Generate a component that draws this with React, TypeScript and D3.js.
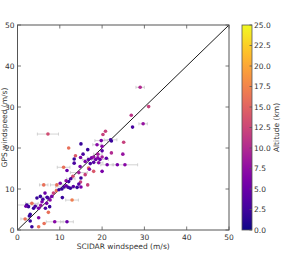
import React from "react";
import * as d3 from "d3";

const scidar = [7.2,20.2,20.8,29.0,26.9,27.2,29.7,31.0,15.0,19.8,22.0,22.2,25.1,12.1,16.6,18.8,20.0,20.0,22.2,13.7,13.4,13.4,14.9,16.0,16.8,17.5,18.0,18.5,19.0,19.5,20.0,18.0,19.2,17.2,21.2,24.9,25.4,23.6,20.0,18.0,16.8,10.9,11.7,13.1,12.6,12.1,15.0,14.9,14.5,15.0,16.6,14.1,10.1,9.3,6.2,11.0,11.5,12.0,9.2,9.8,10.5,12.5,13.2,10.6,12.9,8.1,4.6,5.4,5.8,3.4,2.2,2.6,3.8,5.0,6.6,7.6,7.7,6.9,7.3,3.0,2.8,5.0,1.8,3.0,6.3,8.8,11.7,3.4,5.0,6.0,7.0,2.0,4.2,5.5,6.5,7.2,8.5,11.5,14.5,14.8,16.0,17.0,19.0,21.0,15.5];
const gps = [23.4,23.3,24.1,34.8,28.0,25.1,25.9,30.1,21.0,21.8,22.0,21.7,21.4,20.0,19.6,20.8,20.4,19.3,18.8,18.1,17.3,16.3,17.7,16.7,17.2,17.6,17.8,17.2,17.6,17.2,17.8,16.5,16.4,16.2,15.9,18.5,15.9,15.9,14.3,14.3,15.1,15.3,14.5,13.1,12.5,11.8,12.7,11.7,11.2,10.5,11.0,10.4,11.4,11.0,11.0,10.5,10.8,10.4,9.6,9.8,10.0,10.2,10.6,7.9,7.3,8.2,7.8,8.2,6.9,6.5,6.1,5.7,5.3,5.3,5.3,5.7,7.3,6.5,4.3,3.8,3.4,3.0,2.7,2.2,1.6,2.0,2.0,0.8,0.8,7.5,8.0,5.8,5.8,6.0,9.0,7.8,9.0,12.0,14.0,15.5,13.5,14.8,18.5,17.5,18.5];
const altitude = [13,12,12,10,11,3,8,12,2,6,3,2,12,16,2,7,7,4,10,14,2,3,6,6,4,6,8,5,7,5,9,4,7,3,6,8,7,6,6,14,16,16,5,13,3,2,2,12,4,6,12,2,6,16,16,3,5,3,16,2,2,2,4,2,17,6,2,2,6,16,2,2,2,6,3,2,7,6,16,2,2,7,16,2,16,7,5,2,16,3,2,5,3,8,5,3,12,7,9,6,12,7,9,4,3];
const xerr = [2.5,0,0,1,0,0,1,0,0,1.5,1.5,0,0,0,0,1,0,0,0,0,0,0,0,0,1.5,1,0,1,0,2,0,0,1,0,1.5,0,3,0,0,0,0,1.5,0,0,1,0,0,0,0,0,0,0,0,1.5,1,2,0,0,0,0,0,1.5,0,0,1.5,0,0,0,0,1.5,2.5,0,0,0,0,0,0,0,0,0,0,0,1,0,0,2,1.5,0,0,0,1.5,0,0,0,0,0,0,0,2,0,0,0,1,0,0];

const axisTicks = [0, 10, 20, 30, 40, 50];
const cbTicks = [0, 2.5, 5, 7.5, 10, 12.5, 15, 17.5, 20, 22.5, 25];

export default function App() {
  const W = 299, H = 256;
  const L = 17.5, R = 229, T = 25, B = 230;
  const x = d3.scaleLinear().domain([0, 50]).range([L, R]);
  const y = d3.scaleLinear().domain([0, 50]).range([B, T]);
  const color = d3.scaleSequential(d3.interpolatePlasma).domain([0, 25]);
  const cbL = 242, cbR = 252;
  const cy = d3.scaleLinear().domain([0, 25]).range([B, T]);
  const stops = d3.range(0, 1.0001, 0.05);
  const font = "DejaVu Sans, sans-serif";
  const idx = d3.range(scidar.length);
  return (
    <svg width={W} height={H} style={{ position: "absolute", left: 0, top: 0 }} fontFamily={font}>
      <defs>
        <linearGradient id="cb" x1="0" y1="1" x2="0" y2="0">
          {stops.map((s, i) => (
            <stop key={i} offset={s} stopColor={d3.interpolatePlasma(s)} />
          ))}
        </linearGradient>
        <clipPath id="plot">
          <rect x={L} y={T} width={R - L} height={B - T} />
        </clipPath>
      </defs>
      <rect width={W} height={H} fill="#fff" />
      <g clipPath="url(#plot)">
        {idx.filter(i => xerr[i] > 0).map(i => (
          <g key={"e" + i} stroke="#c8c8c8" strokeWidth={0.8}>
            <line x1={x(scidar[i] - xerr[i])} x2={x(scidar[i] + xerr[i])} y1={y(gps[i])} y2={y(gps[i])} />
            <line x1={x(scidar[i] - xerr[i])} x2={x(scidar[i] - xerr[i])} y1={y(gps[i]) - 1.5} y2={y(gps[i]) + 1.5} />
            <line x1={x(scidar[i] + xerr[i])} x2={x(scidar[i] + xerr[i])} y1={y(gps[i]) - 1.5} y2={y(gps[i]) + 1.5} />
          </g>
        ))}
        <line x1={x(0)} y1={y(0)} x2={x(50)} y2={y(50)} stroke="#000" strokeWidth={0.9} />
        {idx.map(i => (
          <circle key={"p" + i} cx={x(scidar[i])} cy={y(gps[i])} r={1.8} fill={color(altitude[i])} />
        ))}
      </g>
      <rect x={L} y={T} width={R - L} height={B - T} fill="none" stroke="#555" strokeWidth={1} />
      {axisTicks.map(t => (
        <g key={"t" + t} stroke="#555" strokeWidth={0.8}>
          <line x1={x(t)} x2={x(t)} y1={B} y2={B - 3.5} />
          <line x1={x(t)} x2={x(t)} y1={T} y2={T + 3.5} />
          <line y1={y(t)} y2={y(t)} x1={L} x2={L + 3.5} />
          <line y1={y(t)} y2={y(t)} x1={R} x2={R - 3.5} />
        </g>
      ))}
      {axisTicks.map(t => (
        <text key={"xl" + t} x={x(t)} y={240} fontSize={7.5} fill="#333" textAnchor="middle">{t}</text>
      ))}
      {axisTicks.map(t => (
        <text key={"yl" + t} x={L - 3} y={y(t) + 2.7} fontSize={7.5} fill="#333" textAnchor="end">{t}</text>
      ))}
      <text x={(L + R) / 2} y={249} fontSize={7.5} fill="#333" textAnchor="middle">SCIDAR windspeed (m/s)</text>
      <text transform={`translate(7,${(T + B) / 2}) rotate(-90)`} fontSize={7.5} fill="#333" textAnchor="middle">GPS windspeed (m/s)</text>
      <rect x={cbL} y={T} width={cbR - cbL} height={B - T} fill="url(#cb)" stroke="#555" strokeWidth={0.8} />
      {cbTicks.map(t => (
        <g key={"c" + t}>
          <line x1={cbR} x2={cbR - 2.5} y1={cy(t)} y2={cy(t)} stroke="#555" strokeWidth={0.8} />
          <text x={cbR + 2} y={cy(t) + 2.7} fontSize={7.5} fill="#333">{t.toFixed(1)}</text>
        </g>
      ))}
      <text transform={`translate(279,${(T + B) / 2}) rotate(-90)`} fontSize={7.5} fill="#333" textAnchor="middle">Altitude (km)</text>
    </svg>
  );
}
